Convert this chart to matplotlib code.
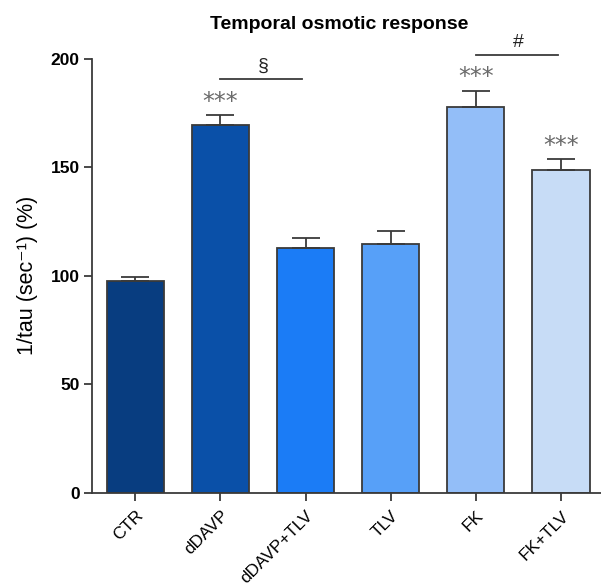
import matplotlib
matplotlib.use("Agg")
import matplotlib.pyplot as plt
import numpy as np

categories = ["CTR", "dDAVP", "dDAVP+TLV", "TLV", "FK", "FK+TLV"]
values = [97.5, 169.6, 113.0, 114.7, 177.7, 148.8]
errors = [2.1, 4.8, 4.4, 6.0, 7.5, 5.1]
colors = ["#083d80", "#0a50a8", "#1b7cf6", "#57a0f8", "#93bef8", "#c7dcf6"]
stars = {1: 180, 4: 191.5, 5: 160}
brackets = [(1, 2, 191, "§"), (4, 5, 202, "#")]

plt.rcParams['font.family'] = ['Liberation Sans', 'DejaVu Sans']

fig = plt.figure(figsize=(6.01, 5.87), dpi=100)
ax = fig.add_axes([0.1535, 0.1606, 0.8465, 0.7389])

x = np.arange(len(categories))
ax.bar(x, values, width=0.67, color=colors, edgecolor="#3a3a3a", linewidth=1.3, zorder=2)
ax.errorbar(x, values, yerr=[[0] * len(values), errors], fmt="none",
            ecolor="#3a3a3a", elinewidth=1.3, capsize=10, capthick=1.3, zorder=3)

for i, yv in stars.items():
    ax.text(i, yv, "***", ha="center", va="center", fontsize=17, color="#6a6a6a",
            family="DejaVu Sans", clip_on=False)

for a, b, yv, sym in brackets:
    ax.plot([a, b - 0.04], [yv, yv], color="#3a3a3a", lw=1.3, clip_on=False)
    ax.text((a + b) / 2, yv + 5.5, sym, ha="center", va="center", fontsize=14,
            color="#222222", clip_on=False)

ax.set_xlim(-0.505, 5.47)
ax.set_ylim(0, 200)
ax.set_yticks([0, 50, 100, 150, 200])
ax.set_yticklabels(["0", "50", "100", "150", "200"], fontweight="bold", fontsize=12.5)
ax.set_xticks(x)
ax.set_xticklabels(categories, rotation=45, ha="right", rotation_mode="anchor", fontsize=12.4)
for lbl in ax.get_xticklabels():
    lbl.set_transform(lbl.get_transform() + matplotlib.transforms.ScaledTranslation(5 / 72, 3 / 72, fig.dpi_scale_trans))

for s in ["top", "right"]:
    ax.spines[s].set_visible(False)
for s in ["left", "bottom"]:
    ax.spines[s].set_color("#3a3a3a")
    ax.spines[s].set_linewidth(1.3)
ax.tick_params(axis="both", direction="out", length=6, width=1.3, color="#3a3a3a")
ax.tick_params(axis="y", pad=3)
ax.tick_params(axis="x", pad=5)

ax.set_ylabel("1/tau (sec⁻¹) (%)", fontsize=15.5, labelpad=9)
fig.text(0.565, 0.959, "Temporal osmotic response", ha="center", va="center",
         fontsize=14, fontweight="bold")

fig.savefig("out.png", dpi=100)
